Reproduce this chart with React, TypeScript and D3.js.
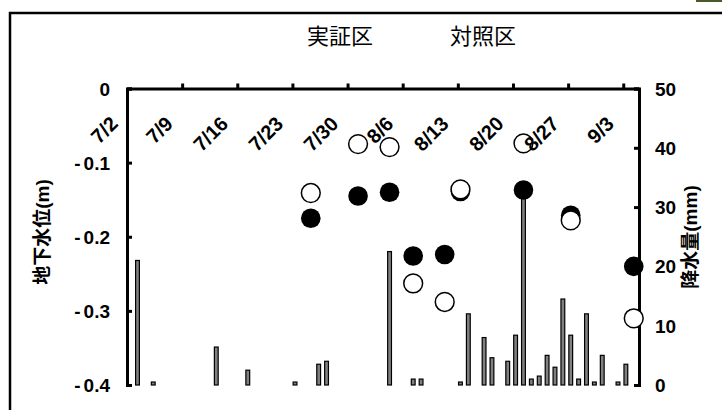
import React, { useEffect, useRef } from "react";
import * as d3 from "d3";

// x axis tick labels (weekly)
const tickDates = ["7/2", "7/9", "7/16", "7/23", "7/30", "8/6", "8/13", "8/20", "8/27", "9/3"];

// groundwater level (m)
const levelDates = ["7/25", "7/31", "8/4", "8/7", "8/11", "8/13", "8/21", "8/27", "9/4"];
const levelJissho = [-0.175, -0.145, -0.14, -0.226, -0.224, -0.139, -0.137, -0.171, -0.24];
const levelTaisho = [-0.141, -0.075, -0.079, -0.263, -0.288, -0.136, -0.074, -0.178, -0.31];

// daily rainfall (mm)
const rainDates = [
  "7/3", "7/5", "7/13", "7/17", "7/23", "7/26", "7/27", "8/4", "8/7", "8/8",
  "8/13", "8/14", "8/16", "8/17", "8/19", "8/20", "8/21", "8/22", "8/23", "8/24",
  "8/25", "8/26", "8/27", "8/28", "8/29", "8/30", "8/31", "9/2", "9/3",
];
const rainValues = [
  21, 0.5, 6.4, 2.5, 0.5, 3.5, 4, 22.5, 1, 1,
  0.5, 12, 8, 4.6, 4, 8.4, 33, 1, 1.5, 5,
  3, 14.5, 8.4, 1, 12, 0.5, 5, 0.5, 3.5,
];

const leftTicks = [0, -0.1, -0.2, -0.3, -0.4];
const rightTicks = [0, 10, 20, 30, 40, 50];

const toDate = (s: string) => {
  const [m, d] = s.split("/").map(Number);
  return new Date(2010, m - 1, d);
};

const App = () => {
  const ref = useRef<SVGSVGElement>(null);

  useEffect(() => {
    const svg = d3.select(ref.current);
    svg.selectAll("*").remove();

    const latin = "'Liberation Sans', Arial, 'Noto Sans CJK JP', sans-serif";
    const cjk = "'Noto Sans CJK JP', sans-serif";

    const x = d3.scaleTime().domain([toDate("7/2"), toDate("9/5")]).range([127, 639]);
    const yL = d3.scaleLinear().domain([-0.4, 0]).range([385, 88.5]);
    const yR = d3.scaleLinear().domain([0, 50]).range([385, 88.5]);
    // marks sit a bit right of the day tick
    const xp = (s: string) => x(d3.timeHour.offset(toDate(s), 8));

    // outer frame
    svg
      .append("rect")
      .attr("x", 10)
      .attr("y", 13)
      .attr("width", 800)
      .attr("height", 600)
      .attr("fill", "none")
      .attr("stroke", "#000")
      .attr("stroke-width", 2.5);
    svg.append("rect").attr("x", 696).attr("y", 0).attr("width", 26).attr("height", 2).attr("fill", "#4a5a2a");

    // legend
    svg.append("text").attr("x", 307).attr("y", 44).text("実証区")
      .style("font-family", cjk).style("font-size", "22px");
    svg.append("text").attr("x", 450).attr("y", 44).text("対照区")
      .style("font-family", cjk).style("font-size", "22px");

    // rainfall bars
    svg
      .append("g")
      .selectAll("rect")
      .data(rainDates.map((d, i) => ({ d, v: rainValues[i] })))
      .enter()
      .append("rect")
      .attr("x", (r) => xp(r.d) - 1.9)
      .attr("width", 3.8)
      .attr("y", (r) => yR(r.v))
      .attr("height", (r) => yR(0) - yR(r.v))
      .attr("fill", "#808080")
      .attr("stroke", "#000")
      .attr("stroke-width", 1.2);

    // axes
    const styleAxis = (g) => {
      g.selectAll("path, line").attr("stroke", "#000").attr("stroke-width", 3);
      g.selectAll("text").remove();
    };
    svg
      .append("g")
      .attr("transform", "translate(127,0)")
      .call(d3.axisRight(yL).tickValues(leftTicks).tickSize(5).tickSizeOuter(5))
      .call(styleAxis);
    svg
      .append("g")
      .attr("transform", "translate(639,0)")
      .call(d3.axisLeft(yR).tickValues(rightTicks).tickSize(5).tickSizeOuter(5))
      .call(styleAxis);
    svg
      .append("g")
      .attr("transform", `translate(0,${yL(0)})`)
      .call(d3.axisTop(x).tickValues(tickDates.slice(1).map(toDate)).tickSize(5).tickSizeOuter(0))
      .call(styleAxis);

    // groundwater points
    svg
      .append("g")
      .selectAll("circle")
      .data(levelDates.map((d, i) => ({ d, v: levelJissho[i] })))
      .enter()
      .append("circle")
      .attr("cx", (p) => xp(p.d))
      .attr("cy", (p) => yL(p.v))
      .attr("r", 9.8)
      .attr("fill", "#000");
    svg
      .append("g")
      .selectAll("circle")
      .data(levelDates.map((d, i) => ({ d, v: levelTaisho[i] })))
      .enter()
      .append("circle")
      .attr("cx", (p) => xp(p.d))
      .attr("cy", (p) => yL(p.v))
      .attr("r", 9.4)
      .attr("fill", "#fff")
      .attr("stroke", "#000")
      .attr("stroke-width", 1.5);

    // tick labels
    const lab = svg.append("g").style("font-family", latin).style("font-weight", "bold");
    const left = lab
      .selectAll("text.l")
      .data(leftTicks)
      .enter()
      .append("text")
      .attr("x", 110)
      .attr("y", (v) => yL(v) + 7)
      .attr("text-anchor", "end")
      .style("font-size", "19px");
    left.filter((v) => v < 0).append("tspan").text("-");
    left.append("tspan").attr("dx", (v) => (v < 0 ? 3 : 0)).text((v) => Math.abs(v).toFixed(v === 0 ? 0 : 1));
    lab
      .selectAll("text.r")
      .data(rightTicks)
      .enter()
      .append("text")
      .attr("x", 655)
      .attr("y", (v) => yR(v) + 7)
      .style("font-size", "19px")
      .text((v) => v);
    lab
      .selectAll("text.x")
      .data(tickDates)
      .enter()
      .append("text")
      .attr("x", (s) => x(toDate(s)) - 8)
      .attr("y", 125)
      .attr("transform", (s) => `rotate(-45, ${x(toDate(s)) - 8}, 125)`)
      .attr("text-anchor", "end")
      .style("font-size", "20px")
      .text((s) => s);

    // axis titles
    svg.append("text")
      .attr("transform", "translate(49,232) rotate(-90)")
      .attr("text-anchor", "middle")
      .style("font-family", latin).style("font-weight", "bold").style("font-size", "19px")
      .text("地下水位(m)");
    svg.append("text")
      .attr("transform", "translate(697,237) rotate(-90)")
      .attr("text-anchor", "middle")
      .style("font-family", latin).style("font-weight", "bold").style("font-size", "19px")
      .text("降水量(mm)");
  }, []);

  return <svg ref={ref} width={722} height={410} style={{ position: "absolute", left: 0, top: 0 }} />;
};

export default App;
